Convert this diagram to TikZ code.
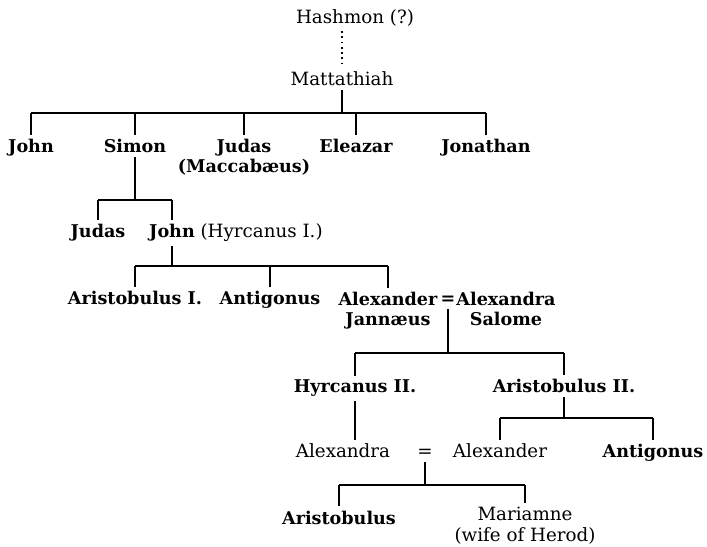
\documentclass[tikz,border=0pt]{standalone}
\usepackage{fontspec}
\setmainfont{DejaVu Serif}
\usetikzlibrary{positioning}
\newcommand\treefont{\fontsize{10.4}{11.5}\selectfont}
\newcommand\rulerfont{\fontsize{10}{11.5}\selectfont\bfseries}
\tikzset{person/.style={anchor=base,inner sep=2pt,align=center,font=\treefont},
  ruler/.style={person,font=\rulerfont}}
\begin{document}
\begin{tikzpicture}[x=0.02cm,y=-0.02cm,line width=0.8pt]
\useasboundingbox (0,0) rectangle (707,547);
% Hashmon and Mattathiah
\node[person] (hashmon) at (355,24) {Hashmon (?)};
\node[person] (matt) at (342,86) {Mattathiah};
\draw[dotted,line width=1pt] (matt.north |- hashmon.south) -- (matt.north);

% sons of Mattathiah (base of a two-line node is its last line)
\node[ruler] (john) at (31,153) {John};
\node[ruler] (simon) at (135,153) {Simon};
\node[ruler] (judas) at (244,173) {Judas\\(Maccabæus)};
\node[ruler] (eleazar) at (356,153) {Eleazar};
\node[ruler] (jonathan) at (486,153) {Jonathan};
\coordinate (bar1) at (0,113);
\draw (matt.south) -- (matt.south |- bar1);
\draw (bar1 -| john) -- (bar1 -| jonathan);
\foreach \n in {john,simon,judas,eleazar,jonathan}
  \draw (bar1 -| \n) -- (\n.north);

% sons of Simon
\node[ruler] (judasb) at (98,238) {Judas};
\node[ruler] (johnh) at (172,238) {John};
\node[person,base right=-1.5pt of johnh] (hyrcI) {(Hyrcanus I.)};
\coordinate (bar2) at (0,200);
\draw (simon.south) -- (simon.south |- bar2);
\draw (bar2 -| judasb) -- (bar2 -| johnh);
\foreach \n in {judasb,johnh}
  \draw (bar2 -| \n) -- (\n.north);

% sons of John Hyrcanus
\node[ruler] (arist1) at (135,305) {Aristobulus I.};
\node[ruler] (antig1) at (270,305) {Antigonus};
\node[ruler] (alexj) at (388,326) {Alexander\\Jannæus};
\node[ruler] (eq1) at (448,305) {=};
\node[ruler] (alexs) at (506,326) {Alexandra\\Salome};
\coordinate (bar3) at (0,266);
\draw (johnh.south) -- (johnh.south |- bar3);
\draw (bar3 -| arist1) -- (bar3 -| alexj);
\foreach \n in {arist1,antig1,alexj}
  \draw (bar3 -| \n) -- (\n.north);

% sons of Alexander Jannaeus
\node[ruler] (hyrc2) at (355,393) {Hyrcanus II.};
\node[ruler] (arist2) at (564,393) {Aristobulus II.};
\coordinate (bar4) at (0,353);
\draw (eq1.south) -- (eq1.south |- bar4);
\draw (bar4 -| hyrc2) -- (bar4 -| arist2);
\foreach \n in {hyrc2,arist2}
  \draw (bar4 -| \n) -- (\n.north);

% next generation
\node[person] (alexandra) at (343,458) {Alexandra};
\node[person] (eq2) at (425,458) {=};
\node[person] (alexander) at (500,458) {Alexander};
\node[ruler] (antig2) at (653,458) {Antigonus};
\draw (hyrc2.south) -- (hyrc2.south |- alexandra.north);
\coordinate (bar5) at (0,418);
\draw (arist2.south) -- (arist2.south |- bar5);
\draw (bar5 -| alexander) -- (bar5 -| antig2);
\foreach \n in {alexander,antig2}
  \draw (bar5 -| \n) -- (\n.north);

% children of Alexandra and Alexander
\node[ruler] (arist3) at (339,524) {Aristobulus};
\node[person] (mariamne) at (525,541) {Mariamne\\(wife of Herod)};
\coordinate (bar6) at (0,485);
\draw (eq2.south) -- (eq2.south |- bar6);
\draw (bar6 -| arist3) -- (bar6 -| mariamne);
\foreach \n in {arist3,mariamne}
  \draw (bar6 -| \n) -- (\n.north);
\end{tikzpicture}
\end{document}
